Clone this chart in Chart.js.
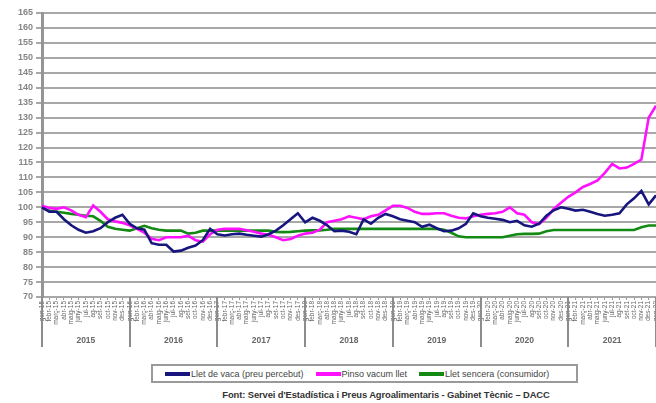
<!DOCTYPE html>
<html>
<head>
<meta charset="utf-8">
<script src="https://cdn.jsdelivr.net/npm/chart.js@4.4.1/dist/chart.umd.min.js"></script>
<style>
  body { margin: 0; background: #fff; font-family: "Liberation Sans", Arial, sans-serif; }
  #wrap { position: relative; width: 656px; height: 403px; }
  #chart { position: absolute; left: 0; top: 0; }
  #legend {
    position: absolute; left: 151px; top: 364px; width: 423px; height: 15px;
    border: 2px solid #9a9a9a; font-size: 9px; color: #444;
    display: flex; align-items: center; white-space: nowrap;
  }
  #legend span.item { display: flex; align-items: center; margin-left: 12px; }
  #legend span.swatch { display: inline-block; width: 25px; height: 4px; margin-right: 1px; }
  #footer {
    position: absolute; left: 0; width: 772px; top: 389px; text-align: center;
    font-size: 9.4px; font-weight: bold; color: #333; letter-spacing: -0.1px;
  }
</style>
</head>
<body>
<div id="wrap">
  <canvas id="chart" width="656" height="355"></canvas>
  <div id="legend"></div>
  <div id="footer">Font: Servei d'Estadística i Preus Agroalimentaris - Gabinet Tècnic – DACC</div>
</div>
<script>
// x axis: monthly from gen-15 to gen-22
const monthNames = ["gen", "febr", "març", "abr", "maig", "juny", "jul", "ag", "set", "oct", "nov", "des"];
const years = ["2015", "2016", "2017", "2018", "2019", "2020", "2021"];
const monthLabels = [];
for (let y = 15; y <= 22; y++) {
  for (let m = 0; m < 12; m++) {
    if (y === 22 && m > 0) break;
    monthLabels.push(monthNames[m] + "-" + y);
  }
}

const seriesNames = ["Llet de vaca (preu percebut)", "Pinso vacum llet", "Llet sencera (consumidor)"];
const seriesColors = ["#16167e", "#ff10ff", "#138a13"];

// Llet de vaca (preu percebut)
const lletVaca = [
  100, 98.5, 98.5, 96, 94, 92.5, 91.5, 92, 93, 95, 96.5, 97.5,
  94.5, 93, 92.5, 88, 87.5, 87.5, 85.2, 85.5, 86.5, 87.2, 89, 92.8,
  91, 90.6, 91, 91.2, 90.8, 90.5, 90.2, 91, 92.2, 94, 96, 98,
  95, 96.5, 95.5, 94, 92, 92.2, 91.8, 91, 96, 94.5, 96.5, 97.8,
  97, 96, 95.5, 95, 93.5, 94.2, 93, 92, 92.2, 93, 94.5, 98,
  97, 96.5, 96.2, 95.8, 95, 95.5, 94, 93.5, 94.5, 97.2, 99, 100,
  99.5, 98.9, 99.2, 98.5, 97.8, 97.2, 97.5, 98, 101, 103, 105.5, 101,
  104
];

// Pinso vacum llet
const pinso = [
  100.5, 99.8, 99.5, 100, 99, 97.5, 96.7, 100.6, 98.5, 96, 95.3, 94.8,
  94, 92.8, 91.5, 89.5, 89, 90, 90, 90, 90.5, 89, 88.5, 91,
  92.5, 92.8, 92.8, 92.8, 92.3, 91.8, 91.2, 90.8, 90, 89, 89.4, 90.5,
  91.2, 91.5, 92.5, 95, 95.5, 96, 97, 96.5, 96, 97, 97.5, 99,
  100.5, 100.5, 99.8, 98.5, 97.8, 97.8, 98, 98, 97.2, 96.5, 96.3, 97,
  97.5, 97.8, 98, 98.5, 100, 98, 97.5, 95, 94.4, 96.5, 99.5, 101.5,
  103.5, 105, 106.8, 107.8, 109, 111.5, 114.5, 113, 113.3, 114.5, 116, 130,
  134
];

// Llet sencera (consumidor)
const lletSencera = [
  100, 98.8, 98.5, 98.2, 97.8, 97.5, 97.2, 97, 95.5, 93.5, 92.8, 92.5,
  92.2, 93, 93.8, 93, 92.5, 92.2, 92.2, 92.2, 91.2, 91.5, 92.2, 92.2,
  92.2, 92.2, 92.2, 92.2, 92.2, 92.2, 92.2, 92.2, 91.8, 91.7, 91.8, 92,
  92.2, 92.3, 92.3, 92.5, 92.8, 92.8, 92.8, 92.8, 92.8, 92.8, 92.8, 92.8,
  92.8, 92.8, 92.8, 92.8, 92.8, 92.8, 92.8, 92.5, 91.5, 90.3, 90, 90,
  90, 90, 90, 90, 90.5, 91, 91.1, 91.1, 91.2, 92, 92.4, 92.4,
  92.4, 92.4, 92.4, 92.4, 92.4, 92.4, 92.4, 92.4, 92.4, 92.4, 93.3, 93.9,
  93.9
];

const seriesData = [lletVaca, pinso, lletSencera];

// legend (html, from the series arrays)
const legendEl = document.getElementById("legend");
seriesNames.forEach((name, i) => {
  const item = document.createElement("span");
  item.className = "item";
  item.innerHTML = '<span class="swatch" style="background:' + seriesColors[i] + '"></span>' + name;
  legendEl.appendChild(item);
});

// vertical separators between the years, under the chart area
const yearSeparators = {
  id: "yearSeparators",
  afterDraw(chart) {
    const xs = chart.scales.x;
    const ys = chart.scales.years;
    const ctx = chart.ctx;
    ctx.save();
    ctx.strokeStyle = "#8c8c8c";
    ctx.lineWidth = 2;
    for (let k = 0; k <= years.length; k++) {
      const idx = k * 12;
      if (idx >= monthLabels.length) continue;
      const px = Math.round(xs.getPixelForValue(idx));
      ctx.beginPath();
      ctx.moveTo(px, chart.chartArea.bottom);
      ctx.lineTo(px, ys.bottom - 8);
      ctx.stroke();
    }
    ctx.restore();
  }
};

const ctx = document.getElementById("chart").getContext("2d");
new Chart(ctx, {
  type: "line",
  data: {
    labels: monthLabels,
    datasets: seriesData.map((d, i) => ({
      label: seriesNames[i],
      data: d,
      borderColor: seriesColors[i],
      backgroundColor: seriesColors[i],
      borderWidth: 2.6,
      pointRadius: 0,
      tension: 0,
      fill: false,
      xAxisID: "x"
    }))
  },
  options: {
    responsive: false,
    animation: false,
    layout: { padding: { top: 13, right: 0, left: 0, bottom: 0 } },
    plugins: {
      legend: { display: false },
      tooltip: { enabled: false }
    },
    scales: {
      x: {
        type: "category",
        position: "bottom",
        offset: false,
        grid: { drawOnChartArea: false, drawTicks: true, tickLength: 3, color: "#9a9a9a" },
        border: { display: false },
        ticks: {
          autoSkip: false,
          maxRotation: 90,
          minRotation: 90,
          padding: 1,
          color: "#666",
          font: { family: "Liberation Sans", size: 6.5 }
        },
        afterFit(scale) {
          scale.height = 33;
          scale.paddingLeft = 0;
          scale.paddingRight = 0;
        }
      },
      years: {
        type: "category",
        position: "bottom",
        labels: years,
        offset: true,
        grid: { display: false, drawTicks: false },
        border: { display: false },
        ticks: {
          padding: 6,
          color: "#666",
          font: { family: "Liberation Sans", size: 8.5, weight: "bold" }
        },
        afterFit(scale) {
          scale.height = 25;
          scale.paddingLeft = 0;
          scale.paddingRight = 0;
        }
      },
      y: {
        min: 70,
        max: 165,
        grid: { color: "#a8a8a8", lineWidth: 2, tickLength: 6, drawTicks: true },
        border: { display: true, color: "#959595", width: 3 },
        ticks: {
          stepSize: 5,
          padding: 3,
          color: "#858585",
          font: { family: "Liberation Sans", size: 9, weight: "bold" }
        },
        afterFit(scale) {
          scale.width = 42;
        }
      }
    }
  },
  plugins: [yearSeparators]
});
</script>
</body>
</html>
